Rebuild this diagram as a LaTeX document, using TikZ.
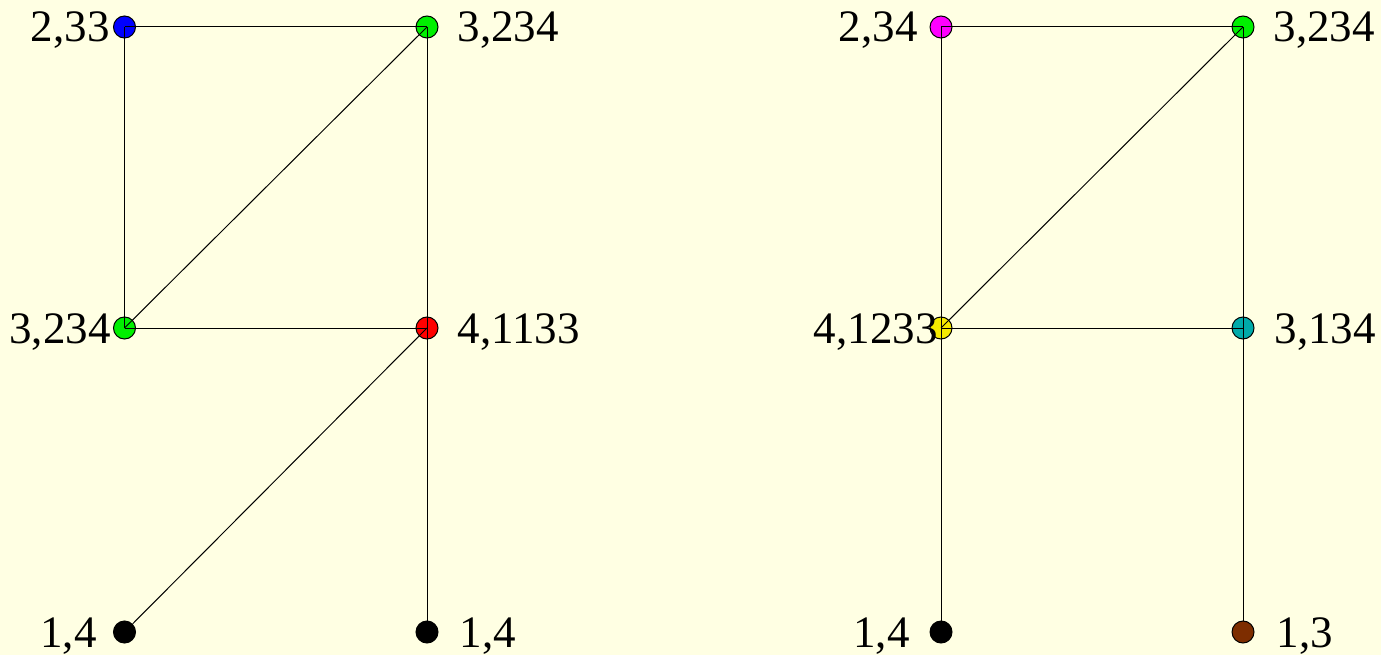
\documentclass[tikz,border=0pt]{standalone}
\usepackage{fontspec}
\setmainfont{Liberation Serif}
\newfontfamily\lblfont{Liberation Serif}
\usetikzlibrary{positioning}
\definecolor{paper}{RGB}{255,255,227}
\definecolor{vblue}{RGB}{0,0,255}
\definecolor{vred}{RGB}{255,0,0}
\definecolor{vmagenta}{RGB}{255,0,255}
\definecolor{vgreen}{RGB}{0,240,0}
\definecolor{vteal}{RGB}{0,170,170}
\definecolor{vbrown}{RGB}{125,45,0}
\definecolor{vyellow}{RGB}{245,235,0}

\begin{document}
\begin{tikzpicture}[x=1pt, y=-1pt, line width=1pt,
    vertex/.style={circle, draw, inner sep=0pt, minimum size=22pt},
    lbl/.style={font=\lblfont\fontsize{45}{50}\selectfont, inner sep=0pt}]
        \fill[paper] (0,0) rectangle (1381,655);
        \useasboundingbox (0,0) rectangle (1381,655);

        % left graph
        \node[vertex, fill=vblue] (l1) at (124.5,27) {};
        \node[vertex, fill=vgreen] (l2) at (427,27) {};
        \node[vertex, fill=vgreen] (l3) at (124.5,328) {};
        \node[vertex, fill=vred] (l4) at (427,328) {};
        \node[vertex, fill=black] (l5) at (124.5,632) {};
        \node[vertex, fill=black] (l6) at (427,632) {};

        \node[lbl, anchor=base east] (t1) at (110,42) {2,33};
        \node[lbl, anchor=base west] (t2) at (457,42) {3,234};
        \node[lbl, anchor=base east] (t3) at (111,343) {3,234};
        \node[lbl, anchor=base west] (t4) at (457,343) {4,1133};
        \node[lbl, anchor=base east] (t5) at (97,647) {1,4};
        \node[lbl, anchor=base west] (t6) at (459,647) {1,4};

        \path
        (l1.center) edge (l2.center)
        (l1.center) edge (l3.center)
        (l3.center) edge (l2.center)
        (l2.center) edge (l4.center)
        (l3.center) edge (l4.center)
        (l4.center) edge (l5)
        (l4.center) edge (l6);

        % right graph
        \node[vertex, fill=vmagenta] (r1) at (941,27) {};
        \node[vertex, fill=vgreen] (r2) at (1243,27) {};
        \node[vertex, fill=vyellow] (r3) at (941,328) {};
        \node[vertex, fill=vteal] (r4) at (1243,328) {};
        \node[vertex, fill=black] (r5) at (941,632) {};
        \node[vertex, fill=vbrown] (r6) at (1243,632) {};

        \node[lbl, anchor=base east] (s1) at (918,42) {2,34};
        \node[lbl, anchor=base west] (s2) at (1273,42) {3,234};
        \node[lbl, anchor=base east] (s3) at (938,343) {4,1233};
        \node[lbl, anchor=base west] (s4) at (1274,343) {3,134};
        \node[lbl, anchor=base east] (s5) at (910,647) {1,4};
        \node[lbl, anchor=base west] (s6) at (1276,647) {1,3};

        \path
        (r1.center) edge (r2.center)
        (r1.center) edge (r3.center)
        (r3.center) edge (r2.center)
        (r2.center) edge (r4.center)
        (r3.center) edge (r4.center)
        (r3.center) edge (r5)
        (r4.center) edge (r6);
\end{tikzpicture}
\end{document}
